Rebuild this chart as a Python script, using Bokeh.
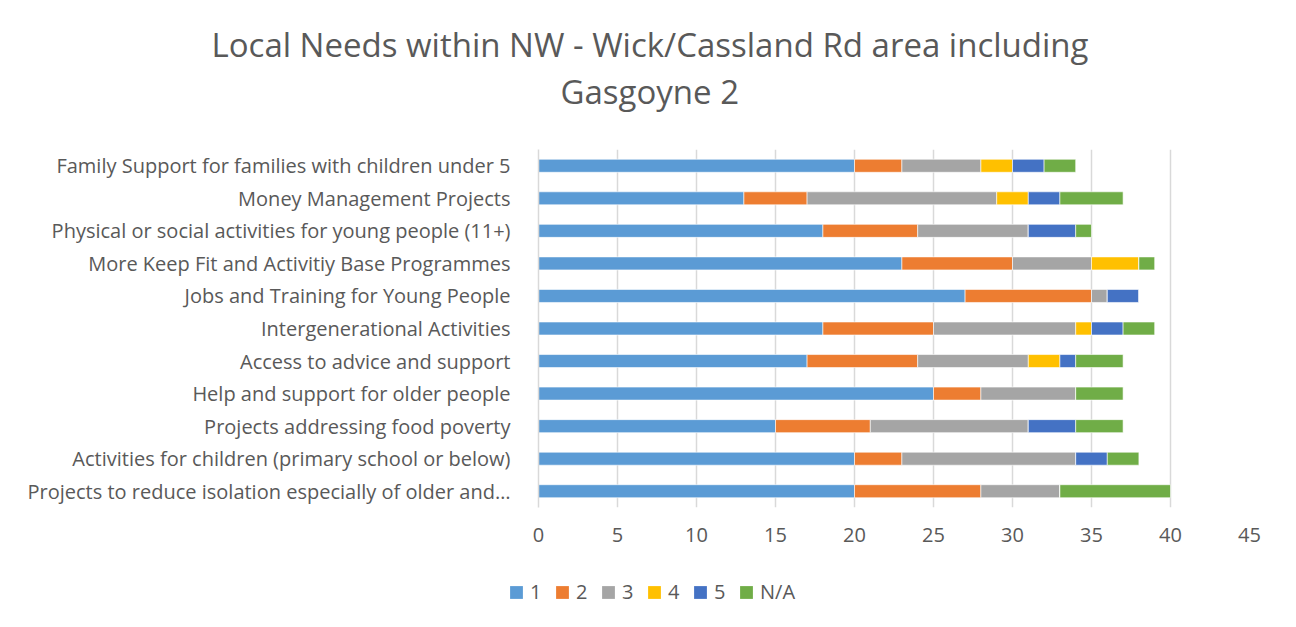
from bokeh.plotting import figure
from bokeh.models import ColumnDataSource, FactorRange, Range1d, Title, Legend, LegendItem, FixedTicker
from bokeh.layouts import column, row
from bokeh.embed import file_html
from bokeh.resources import INLINE

categories = [
    "Family Support for families with children under 5",
    "Money Management Projects",
    "Physical or social activities for young people (11+)",
    "More Keep Fit and Activitiy Base Programmes",
    "Jobs and Training for Young People",
    "Intergenerational Activities",
    "Access to advice and support",
    "Help and support for older people",
    "Projects addressing food poverty",
    "Activities for children (primary school or below)",
    "Projects to reduce isolation especially of older and\u2026",
]
s1 = [20, 13, 18, 23, 27, 18, 17, 25, 15, 20, 20]
s2 = [3, 4, 6, 7, 8, 7, 7, 3, 6, 3, 8]
s3 = [5, 12, 7, 5, 1, 9, 7, 6, 10, 11, 5]
s4 = [2, 2, 0, 3, 0, 1, 2, 0, 0, 0, 0]
s5 = [2, 2, 3, 0, 2, 2, 1, 0, 3, 2, 0]
sna = [2, 4, 1, 1, 0, 2, 3, 3, 3, 2, 7]
series_names = ["1", "2", "3", "4", "5", "N/A"]
colors = ["#5B9BD5", "#ED7D31", "#A5A5A5", "#FFC000", "#4472C4", "#70AD47"]
x_ticks = [0, 5, 10, 15, 20, 25, 30, 35, 40, 45]
title_lines = ["Local Needs within NW - Wick/Cassland Rd area including", "Gasgoyne 2"]

FONT = "Open Sans"
TXT = "#595959"

source = ColumnDataSource(dict(cat=categories, s1=s1, s2=s2, s3=s3, s4=s4, s5=s5, sna=sna))
keys = ["s1", "s2", "s3", "s4", "s5", "sna"]

W = 1290
p = figure(width=W, height=560, output_backend="svg", toolbar_location=None,
           y_range=FactorRange(*list(reversed(categories))), x_range=Range1d(0, 45),
           min_border_left=538, min_border_right=41, min_border_top=149, min_border_bottom=53)
p.outline_line_color = None
p.background_fill_color = "white"
p.border_fill_color = "white"

renderers = p.hbar_stack(keys, y="cat", height=0.4, color=colors, source=source,
                         line_color="white", line_width=0.6)

p.xaxis.ticker = FixedTicker(ticks=x_ticks)
p.xgrid.ticker = FixedTicker(ticks=x_ticks)
p.xgrid.grid_line_color = "#D9D9D9"
p.xgrid.grid_line_width = 1.5
p.ygrid.grid_line_color = None

for ax in (p.xaxis, p.yaxis):
    ax.major_tick_line_color = None
    ax.minor_tick_line_color = None
    ax.major_label_text_font = FONT
    ax.major_label_text_color = TXT
    ax.major_label_text_font_size = "20px"
p.xaxis.axis_line_color = None
p.yaxis.axis_line_color = "#D9D9D9"
p.yaxis.axis_line_width = 1.5
p.xaxis.major_label_standoff = 14
p.yaxis.major_label_standoff = 22

# titles: first added sits nearest the plot frame
p.add_layout(Title(text=" ", standoff=0, text_font=FONT, text_font_size="25px"), "above")
p.add_layout(Title(text=title_lines[1], align="left", offset=22, standoff=0, text_font=FONT,
                   text_font_size="33px", text_font_style="normal", text_color=TXT), "above")
p.add_layout(Title(text=title_lines[0], align="left", offset=-327, standoff=0, text_font=FONT,
                   text_font_size="33px", text_font_style="normal", text_color=TXT), "above")

# legend strip (hidden copies of the stacked bars supply the legend swatches)
LH = 60
q = figure(width=W, height=LH, output_backend="svg", toolbar_location=None,
           y_range=FactorRange(*categories), x_range=Range1d(0, 45),
           x_axis_type=None, y_axis_type=None,
           min_border_left=0, min_border_right=0, min_border_top=0, min_border_bottom=0)
q.outline_line_color = None
q.xgrid.visible = False
q.ygrid.visible = False
q.background_fill_color = "white"
hidden = q.hbar_stack(keys, y="cat", height=0.4, color=colors, source=source, line_color=None)
for r in hidden:
    r.visible = False
items = [LegendItem(label=n, renderers=[r]) for n, r in zip(series_names, hidden)]
legend = Legend(items=items, orientation="horizontal", location=(508, 15),
                glyph_width=16, glyph_height=16, label_height=20, label_width=20,
                padding=0, margin=0, spacing=4, label_standoff=6, label_text_font=FONT,
                label_text_font_size="20px", label_text_color=TXT,
                inactive_fill_alpha=0, border_line_color=None, background_fill_alpha=0)
q.add_layout(legend, "center")

layout = column(p, row(q), spacing=0)
open("out.html", "w").write(file_html(layout, INLINE))
